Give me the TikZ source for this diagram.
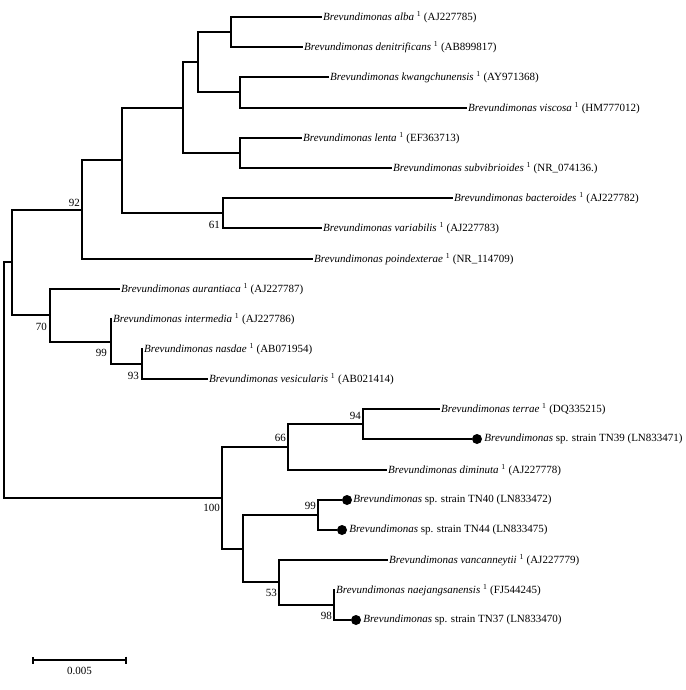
\documentclass[tikz,border=0pt]{standalone}
\usepackage{fontspec}
\setmainfont{Liberation Serif}
\usetikzlibrary{arrows.meta, positioning}
\tikzstyle{branch} = [line width=2pt]
\newcommand{\refsp}[2]{\textit{Brevundimonas #1} \textsuperscript{1} (#2)}
\newcommand{\strain}[2]{\textit{Brevundimonas} sp. strain #1 (#2)}

\begin{document}
\begin{tikzpicture}[x=1pt, y=-1pt,
    leaf/.style={anchor=west, inner sep=1pt, font=\fontsize{11}{13}\selectfont},
    boot/.style={anchor=east, inner sep=0pt, font=\fontsize{11}{13}\selectfont},
    sdot/.style={circle, fill=black, inner sep=0pt, minimum size=10pt},
]
\useasboundingbox (0,0) rectangle (685,690);

% Internal nodes
\coordinate (root) at (4,380);
\coordinate (nD) at (12,262);
\coordinate (n92) at (82,210);
\coordinate (nC) at (122,160);
\coordinate (nB) at (183,108);
\coordinate (nA) at (198,62);
\coordinate (nAD) at (231,32);
\coordinate (nKV) at (240,92);
\coordinate (nLS) at (240,153);
\coordinate (n61) at (223,213);
\coordinate (n70) at (50,315);
\coordinate (n99a) at (111,342);
\coordinate (n93) at (142,364);
\coordinate (n100) at (222,498);
\coordinate (n66) at (288,447);
\coordinate (n94) at (363,424);
\coordinate (nE) at (243,549);
\coordinate (n99b) at (318,515);
\coordinate (n53) at (279,582);
\coordinate (n98) at (334,605);

% Leaves
\node[leaf] (alba) at (322,17) {\refsp{alba}{AJ227785}};
\node[leaf] (denit) at (303,47) {\refsp{denitrificans}{AB899817}};
\node[leaf] (kwang) at (329,77) {\refsp{kwangchunensis}{AY971368}};
\node[leaf] (visc) at (467,108) {\refsp{viscosa}{HM777012}};
\node[leaf] (lenta) at (302,138) {\refsp{lenta}{EF363713}};
\node[leaf] (subvib) at (392,168) {\refsp{subvibrioides}{NR\_074136.}};
\node[leaf] (bact) at (453,198) {\refsp{bacteroides}{AJ227782}};
\node[leaf] (variab) at (322,228) {\refsp{variabilis}{AJ227783}};
\node[leaf] (poind) at (313,259) {\refsp{poindexterae}{NR\_114709}};
\node[leaf] (auran) at (120,289) {\refsp{aurantiaca}{AJ227787}};
\node[leaf] (interm) at (112,319) {\refsp{intermedia}{AJ227786}};
\node[leaf] (nasdae) at (143,349) {\refsp{nasdae}{AB071954}};
\node[leaf] (vesic) at (208,379) {\refsp{vesicularis}{AB021414}};
\node[leaf] (terrae) at (440,409) {\refsp{terrae}{DQ335215}};
\node[leaf] (dimin) at (387,470) {\refsp{diminuta}{AJ227778}};
\node[leaf] (vanc) at (388,560) {\refsp{vancanneytii}{AJ227779}};
\node[leaf] (naej) at (335,590) {\refsp{naejangsanensis}{FJ544245}};

% Strains of this study
\node[sdot] (tn39dot) at (477,439) {};
\node[leaf, right=1pt of tn39dot] (tn39) {\strain{TN39}{LN833471}};
\node[sdot] (tn40dot) at (347,500) {};
\node[leaf, right=0pt of tn40dot] (tn40) {\strain{TN40}{LN833472}};
\node[sdot] (tn44dot) at (342,530) {};
\node[leaf, right=1pt of tn44dot] (tn44) {\strain{TN44}{LN833475}};
\node[sdot] (tn37dot) at (356,620) {};
\node[leaf, right=1pt of tn37dot] (tn37) {\strain{TN37}{LN833470}};

% Branches
\draw[branch] (root) |- (nD);
\draw[branch] (root) |- (n100);
\draw[branch] (nD) |- (n92);
\draw[branch] (nD) |- (n70);
\draw[branch] (n92) |- (nC);
\draw[branch] (n92) |- (poind.west);
\draw[branch] (nC) |- (nB);
\draw[branch] (nC) |- (n61);
\draw[branch] (nB) |- (nA);
\draw[branch] (nB) |- (nLS);
\draw[branch] (nA) |- (nAD);
\draw[branch] (nA) |- (nKV);
\draw[branch] (nAD) |- (alba.west);
\draw[branch] (nAD) |- (denit.west);
\draw[branch] (nKV) |- (kwang.west);
\draw[branch] (nKV) |- (visc.west);
\draw[branch] (nLS) |- (lenta.west);
\draw[branch] (nLS) |- (subvib.west);
\draw[branch] (n61) |- (bact.west);
\draw[branch] (n61) |- (variab.west);
\draw[branch] (n70) |- (auran.west);
\draw[branch] (n70) |- (n99a);
\draw[branch] (n99a) |- (interm.west);
\draw[branch] (n99a) |- (n93);
\draw[branch] (n93) |- (nasdae.west);
\draw[branch] (n93) |- (vesic.west);
\draw[branch] (n100) |- (n66);
\draw[branch] (n100) |- (nE);
\draw[branch] (n66) |- (n94);
\draw[branch] (n66) |- (dimin.west);
\draw[branch] (n94) |- (terrae.west);
\draw[branch] (n94) |- (tn39dot.west);
\draw[branch] (nE) |- (n99b);
\draw[branch] (nE) |- (n53);
\draw[branch] (n99b) |- (tn40dot.west);
\draw[branch] (n99b) |- (tn44dot.west);
\draw[branch] (n53) |- (vanc.west);
\draw[branch] (n53) |- (n98);
\draw[branch] (n98) |- (naej.west);
\draw[branch] (n98) |- (tn37dot.west);

% Bootstrap values
\node[boot] (b92) at (80,203) {92};
\node[boot] (b61) at (220,225) {61};
\node[boot] (b70) at (47,327) {70};
\node[boot] (b99a) at (107,353) {99};
\node[boot] (b93) at (139,376) {93};
\node[boot] (b66) at (286,438) {66};
\node[boot] (b94) at (361,416) {94};
\node[boot] (b100) at (220,508) {100};
\node[boot] (b99b) at (316,506) {99};
\node[boot] (b53) at (277,593) {53};
\node[boot] (b98) at (332,616) {98};

% Scale bar
\coordinate (sbl) at (32,660);
\coordinate (sbr) at (127,660);
\draw[branch, {Bar[width=7pt]}-{Bar[width=7pt]}] (sbl) -- (sbr)
    node[midway, below=3pt, font=\fontsize{11}{13}\selectfont] (sblab) {0.005};

\end{tikzpicture}
\end{document}
